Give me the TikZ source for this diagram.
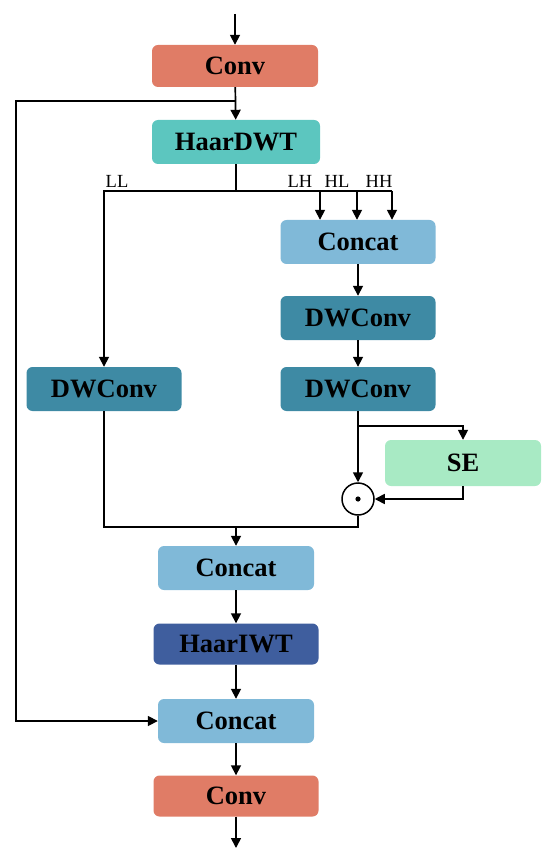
\documentclass[tikz,border=0pt]{standalone}
\usepackage{fontspec}
\setmainfont{Liberation Serif}
\usepackage{xcolor}
\definecolor{convcol}{RGB}{224, 124, 102}
\definecolor{dwtcol}{RGB}{92, 198, 191}
\definecolor{catcol}{RGB}{128, 185, 216}
\definecolor{dwcol}{RGB}{62, 138, 164}
\definecolor{secol}{RGB}{168, 234, 196}
\definecolor{iwtcol}{RGB}{63, 94, 158}
\usetikzlibrary{positioning, arrows.meta}

\tikzset{
  blk/.style={rounded corners=6pt, fill=#1, draw=none, inner sep=0pt,
              minimum width=156pt, minimum height=44pt,
              font=\fontsize{26.5}{30}\selectfont\bfseries},
  lbl/.style={font=\fontsize{18.5}{20}\selectfont, inner sep=1pt},
  wire/.style={line width=1.7pt},
  arr/.style={wire, -{Triangle[length=10pt, width=10pt]}},
}

\begin{document}
\begin{tikzpicture}[x=1pt, y=-1pt]
  \useasboundingbox (0,0) rectangle (550,858);

  % main column
  \node[blk=convcol, minimum width=166pt, minimum height=42pt] (conv1) at (235,66) {Conv};
  \node[blk=dwtcol, minimum width=168pt] (dwt) at (236,142) {HaarDWT};
  \node[blk=catcol, minimum width=155pt] (cat1) at (358,242) {Concat};
  \node[blk=dwcol, minimum width=155pt] (dw1) at (358,318) {DWConv};
  \node[blk=dwcol, minimum width=155pt] (dw2) at (358,389) {DWConv};
  \node[blk=dwcol, minimum width=155pt] (dwl) at (104,389) {DWConv};
  \node[blk=secol, minimum width=156pt, minimum height=46pt] (se) at (463,463) {SE};
  \node[circle, draw, line width=1.5pt, minimum size=32pt, inner sep=0pt] (mul) at (358,499) {};
  \fill (mul.center) circle (2.6pt);
  \node[blk=catcol] (cat2) at (236,568) {Concat};
  \node[blk=iwtcol, minimum width=165pt, minimum height=41pt] (iwt) at (236,644) {HaarIWT};
  \node[blk=catcol] (cat3) at (236,721) {Concat};
  \node[blk=convcol, minimum width=165pt, minimum height=41pt] (conv2) at (236,796) {Conv};

  % junction points
  \coordinate (in) at (235,14);
  \coordinate (out) at (236,848);
  \coordinate (skip) at (235,101);
  \coordinate (skipl) at (16,101);
  \coordinate (split) at (236,191);
  \coordinate (lh) at (320,191);
  \coordinate (hl) at (357,191);
  \coordinate (hh) at (392,191);
  \coordinate (br) at (358,426);
  \coordinate (mg) at (236,527);

  % subband labels
  \node[lbl, anchor=south] (ll) at (117,189) {LL};
  \node[lbl, anchor=south] (lht) at (300,189) {LH};
  \node[lbl, anchor=south] (hlt) at (337,189) {HL};
  \node[lbl, anchor=south] (hht) at (379,189) {HH};

  \draw[arr] (in) -- (conv1);
  \draw[arr] (conv1) -- (dwt);
  \draw[arr] (skip) -- (skipl) |- (cat3.west);
  \draw[wire] (dwt.south) -- (split);
  \draw[arr] (split) -| (dwl.north);
  \draw[wire] (split) -- (hh);
  \draw[arr] (lh) -- (lh |- cat1.north);
  \draw[arr] (hl) -- (hl |- cat1.north);
  \draw[arr] (hh) -- (hh |- cat1.north);
  \draw[arr] (cat1) -- (dw1);
  \draw[arr] (dw1) -- (dw2);
  \draw[arr] (dw2.south) -- (mul.north);
  \draw[arr] (br) -| (se.north);
  \draw[arr] (se.south) |- (mul.east);
  \draw[wire] (dwl.south) |- (mul.south |- mg) -- (mul.south);
  \draw[arr] (mg) -- (cat2);
  \draw[arr] (cat2) -- (iwt);
  \draw[arr] (iwt) -- (cat3);
  \draw[arr] (cat3) -- (conv2);
  \draw[arr] (conv2) -- (out);
\end{tikzpicture}
\end{document}
